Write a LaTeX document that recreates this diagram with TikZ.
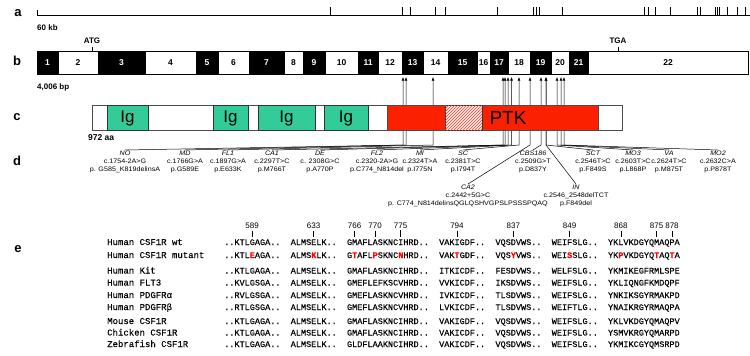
\documentclass[tikz,border=0pt]{standalone}
\usepackage{fontspec}
\setmainfont{Liberation Sans}
\newfontfamily\mutfont[FakeStretch=1.1]{Liberation Sans}
\newfontfamily\seqfont[FakeBold=0.3]{Liberation Mono}
\usetikzlibrary{arrows.meta,patterns}
\definecolor{iggreen}{RGB}{51,204,153}
\definecolor{ptkred}{RGB}{250,32,0}
\definecolor{hatchpink}{RGB}{255,235,235}
\newcommand\mutres[1]{\textcolor{red}{\bfseries #1}}
\begin{document}
\begin{tikzpicture}[x=1pt,y=-1pt,
  panel/.style={font=\fontsize{13}{13}\selectfont\bfseries,inner sep=0pt},
  small/.style={font=\fontsize{8}{8}\selectfont\bfseries,inner sep=0pt},
  exon/.style={draw=black,line width=0.6pt,minimum height=23pt,inner sep=0pt,font=\fontsize{8.5}{8.5}\selectfont\bfseries},
  protbox/.style={draw=black!70,line width=0.5pt,minimum height=25pt,inner sep=0pt},
  mut/.style={align=center,inner sep=1pt,font=\mutfont\fontsize{6.5}{8}\selectfont},
  hit/.style={-{Latex[length=3.5pt,width=2.8pt]},line width=0.5pt},
  num/.style={font=\fontsize{8}{8}\selectfont,inner sep=0.5pt},
  seq/.style={anchor=base west,inner sep=0pt,font=\seqfont\fontsize{8.53}{10}\selectfont},
  sp/.style={anchor=base west,inner sep=0pt,font=\seqfont\fontsize{9}{10}\selectfont}]
\useasboundingbox (0,0) rectangle (750,356);
% a: genomic locus
\node[panel] (la) at (18,13) {a};
\coordinate (a0) at (37,15);
\coordinate (a1) at (750,15);
\draw[line width=0.9pt] (37,10) -- (a0) -- (a1);
\foreach \t in {330,402,410,435,445,497,533,536,539,562,644,648,655,670,697,700,715,717,719,727,737,745}
  \draw[line width=0.9pt] (\t,7) -- (\t,15);
\node[small,anchor=west] (kb) at (37,28) {60 kb};
% b: exons
\node[panel] (lb) at (17,61) {b};
\foreach \n/\xa/\xb/\c/\t in {1/37/58/black/white,2/58/98/white/black,3/98/145/black/white,
  4/145/196/white/black,5/196/218/black/white,6/218/249/white/black,7/249/284/black/white,
  8/284/303/white/black,9/303/325/black/white,10/325/358/white/black,11/358/378/black/white,
  12/378/402/white/black,13/402/423/black/white,14/423/448/white/black,15/448/477/black/white,
  16/477/490/white/black,17/490/508/black/white,18/508/530/white/black,19/530/551/black/white,
  20/551/569/white/black,21/569/588/black/white,22/588/748/white/black}
  \node[exon,fill=\c,text=\t,minimum width={(\xb-\xa)*1pt}] (e\n) at ({(\xa+\xb)/2},62.5) {\n};
\coordinate (atg) at (92,51);
\coordinate (tga) at (618,51);
\node[small] (atglab) at (92,41) {ATG};
\node[small] (tgalab) at (618,41) {TGA};
\draw[line width=0.8pt] (atglab.south) ++(0,3) -- (atg);
\draw[line width=0.8pt] (tgalab.south) ++(0,3) -- (tga);
\node[small,anchor=west] (bp) at (37,87) {4,006 bp};
% d: mutations, lines run behind the protein
\node[panel] (ld) at (17,161) {d};
\foreach \m/\x/\y/\cn/\pn/\h in {NO/125/150/c.1754-2A>G/p. G585\_K819delinsA/403,
  MD/185/150/c.1766G>A/p.G589E/406,
  FL1/228/150/c.1897G>A/p.E633K/433,
  CA1/272/150/c.2297T>C/p.M766T/503,
  DE/320/150/c. 2308G>C/p.A770P/505,
  FL2/377/150/c.2320-2A>G/p.C774\_N814del/508,
  MI/420/150/c.2324T>A/p.I775N/511.5,
  SC/463/150/c.2381T>C/p.I794T/519,
  CBS186/533/150/c.2509G>T/p.D837Y/541,
  SCT/593/150/c.2546T>C/p.F849S/546,
  MO3/633/150/c.2603T>C/p.L868P/557,
  VA/669/150/c.2624T>C/p.M875T/561,
  MO2/718/150/c.2632C>A/p.P878T/564,
  CA2/468/184/c.2442+5G>C/p. C774\_N814delinsQGLQSHVGPSLPSSSPQAQ/530,
  IN/576/184/c.2546\_2548delTCT/p.F849del/546}
{
  \node[mut,anchor=north] (\m) at (\x,\y) {{\itshape\m}\\\cn\\\pn};
  \coordinate (\m-b) at (\h,145);
  \coordinate (\m-t) at (\h,77);
  \draw[hit] (\m.north) -- (\m-b) -- (\m-t);
}
% c: protein
\node[panel] (lc) at (17,117) {c};
\node[protbox,fill=white,minimum width=530pt] (prot) at (357,118) {};
\foreach \i/\x/\w in {1/127.5/41,2/230.5/35,3/286.5/57,4/346/44}
  \node[protbox,draw=black!80,fill=iggreen,minimum width=\w pt,font=\fontsize{17}{17}\selectfont] (ig\i) at (\x,118) {Ig};
\node[protbox,fill=ptkred,minimum width=211pt] (ptk) at (492.5,118) {};
\node[protbox,draw=black!80,fill=hatchpink,postaction={pattern=north east lines,pattern color=ptkred!85},minimum width=37pt] (kid) at (463.5,118) {};
\node[font=\fontsize{19}{19}\selectfont,inner sep=0pt] (ptklab) at (508,118) {PTK};
\node[small,anchor=west,font=\fontsize{8.5}{8.5}\selectfont\bfseries] (aa) at (88,138) {972 aa};
% e: alignment
\node[panel] (le) at (18,249) {e};
\foreach \n/\i in {589/5,633/17,766/25,770/29,775/34,794/45,837/56,849/67,868/77,875/84,878/87}
{
  \node[num] (n\n) at ({224+(\i+0.5)*5.12},226) {\n};
  \coordinate (t\n) at ({224+(\i+0.5)*5.12},237);
  \draw[line width=0.6pt] (n\n.south) ++(0,1) -- (t\n);
}
\node[sp] (sp1) at (107,245) {Human CSF1R wt};
\node[seq] (sq1) at (224,245) {..KTLGAGA..~~ALMSELK..~~GMAFLASKNCIHRD..~~VAKIGDF..~~VQSDVWS..~~WEIFSLG..~~YKLVKDGYQMAQPA};
\node[sp] (sp2) at (107,258) {Human CSF1R mutant};
\node[seq] (sq2) at (224,258) {..KTL\mutres{E}AGA..~~ALMS\mutres{K}LK..~~G\mutres{T}AFL\mutres{P}SKNC\mutres{N}HRD..~~VAK\mutres{T}GDF..~~VQS\mutres{Y}VWS..~~WEI\mutres{S}SLG..~~YK\mutres{P}VKDGYQ\mutres{T}AQ\mutres{T}A};
\foreach \r/\y/\name/\s in {3/273.5/Human Kit/..KTLGAGA..~~ALMSELK..~~GMAFLASKNCIHRD..~~ITKICDF..~~FESDVWS..~~WELFSLG..~~YKMIKEGFRMLSPE,
  4/285.5/Human FLT3/..KVLGSGA..~~ALMSELK..~~GMEFLEFKSCVHRD..~~VVKICDF..~~IKSDVWS..~~WEIFSLG..~~YKLIQNGFKMDQPF,
  5/298/Human PDGFRα/..RVLGSGA..~~ALMSELK..~~GMEFLASKNCVHRD..~~IVKICDF..~~TLSDVWS..~~WEIFSLG..~~YNKIKSGYRMAKPD,
  6/310/Human PDGFRβ/..RTLGSGA..~~ALMSELK..~~GMEFLASKNCVHRD..~~LVKICDF..~~TLSDVWS..~~WEIFTLG..~~YNAIKRGYRMAQPA,
  7/324/Mouse CSF1R/..KTLGAGA..~~ALMSELK..~~GMAFLASKNCIHRD..~~VAKIGDF..~~VQSDVWS..~~WEIFSLG..~~YKLVKDGYQMAQPV,
  8/335.5/Chicken CSF1R/..KTLGAGA..~~ALMSELK..~~GMAFLASKNCIHRD..~~VAKICDF..~~VQSDVWS..~~WEIFSLG..~~YSMVKRGYQMARPD,
  9/347/Zebrafish CSF1R/..KTLGAGA..~~ALMSELK..~~GLDFLAAKNCIHRD..~~VAKICDF..~~VQSDVWS..~~WEIFSLG..~~YKMIKCGYQMSRPD}
{
  \node[sp] (sp\r) at (107,\y) {\name};
  \node[seq] (sq\r) at (224,\y) {\s};
}
\end{tikzpicture}
\end{document}
